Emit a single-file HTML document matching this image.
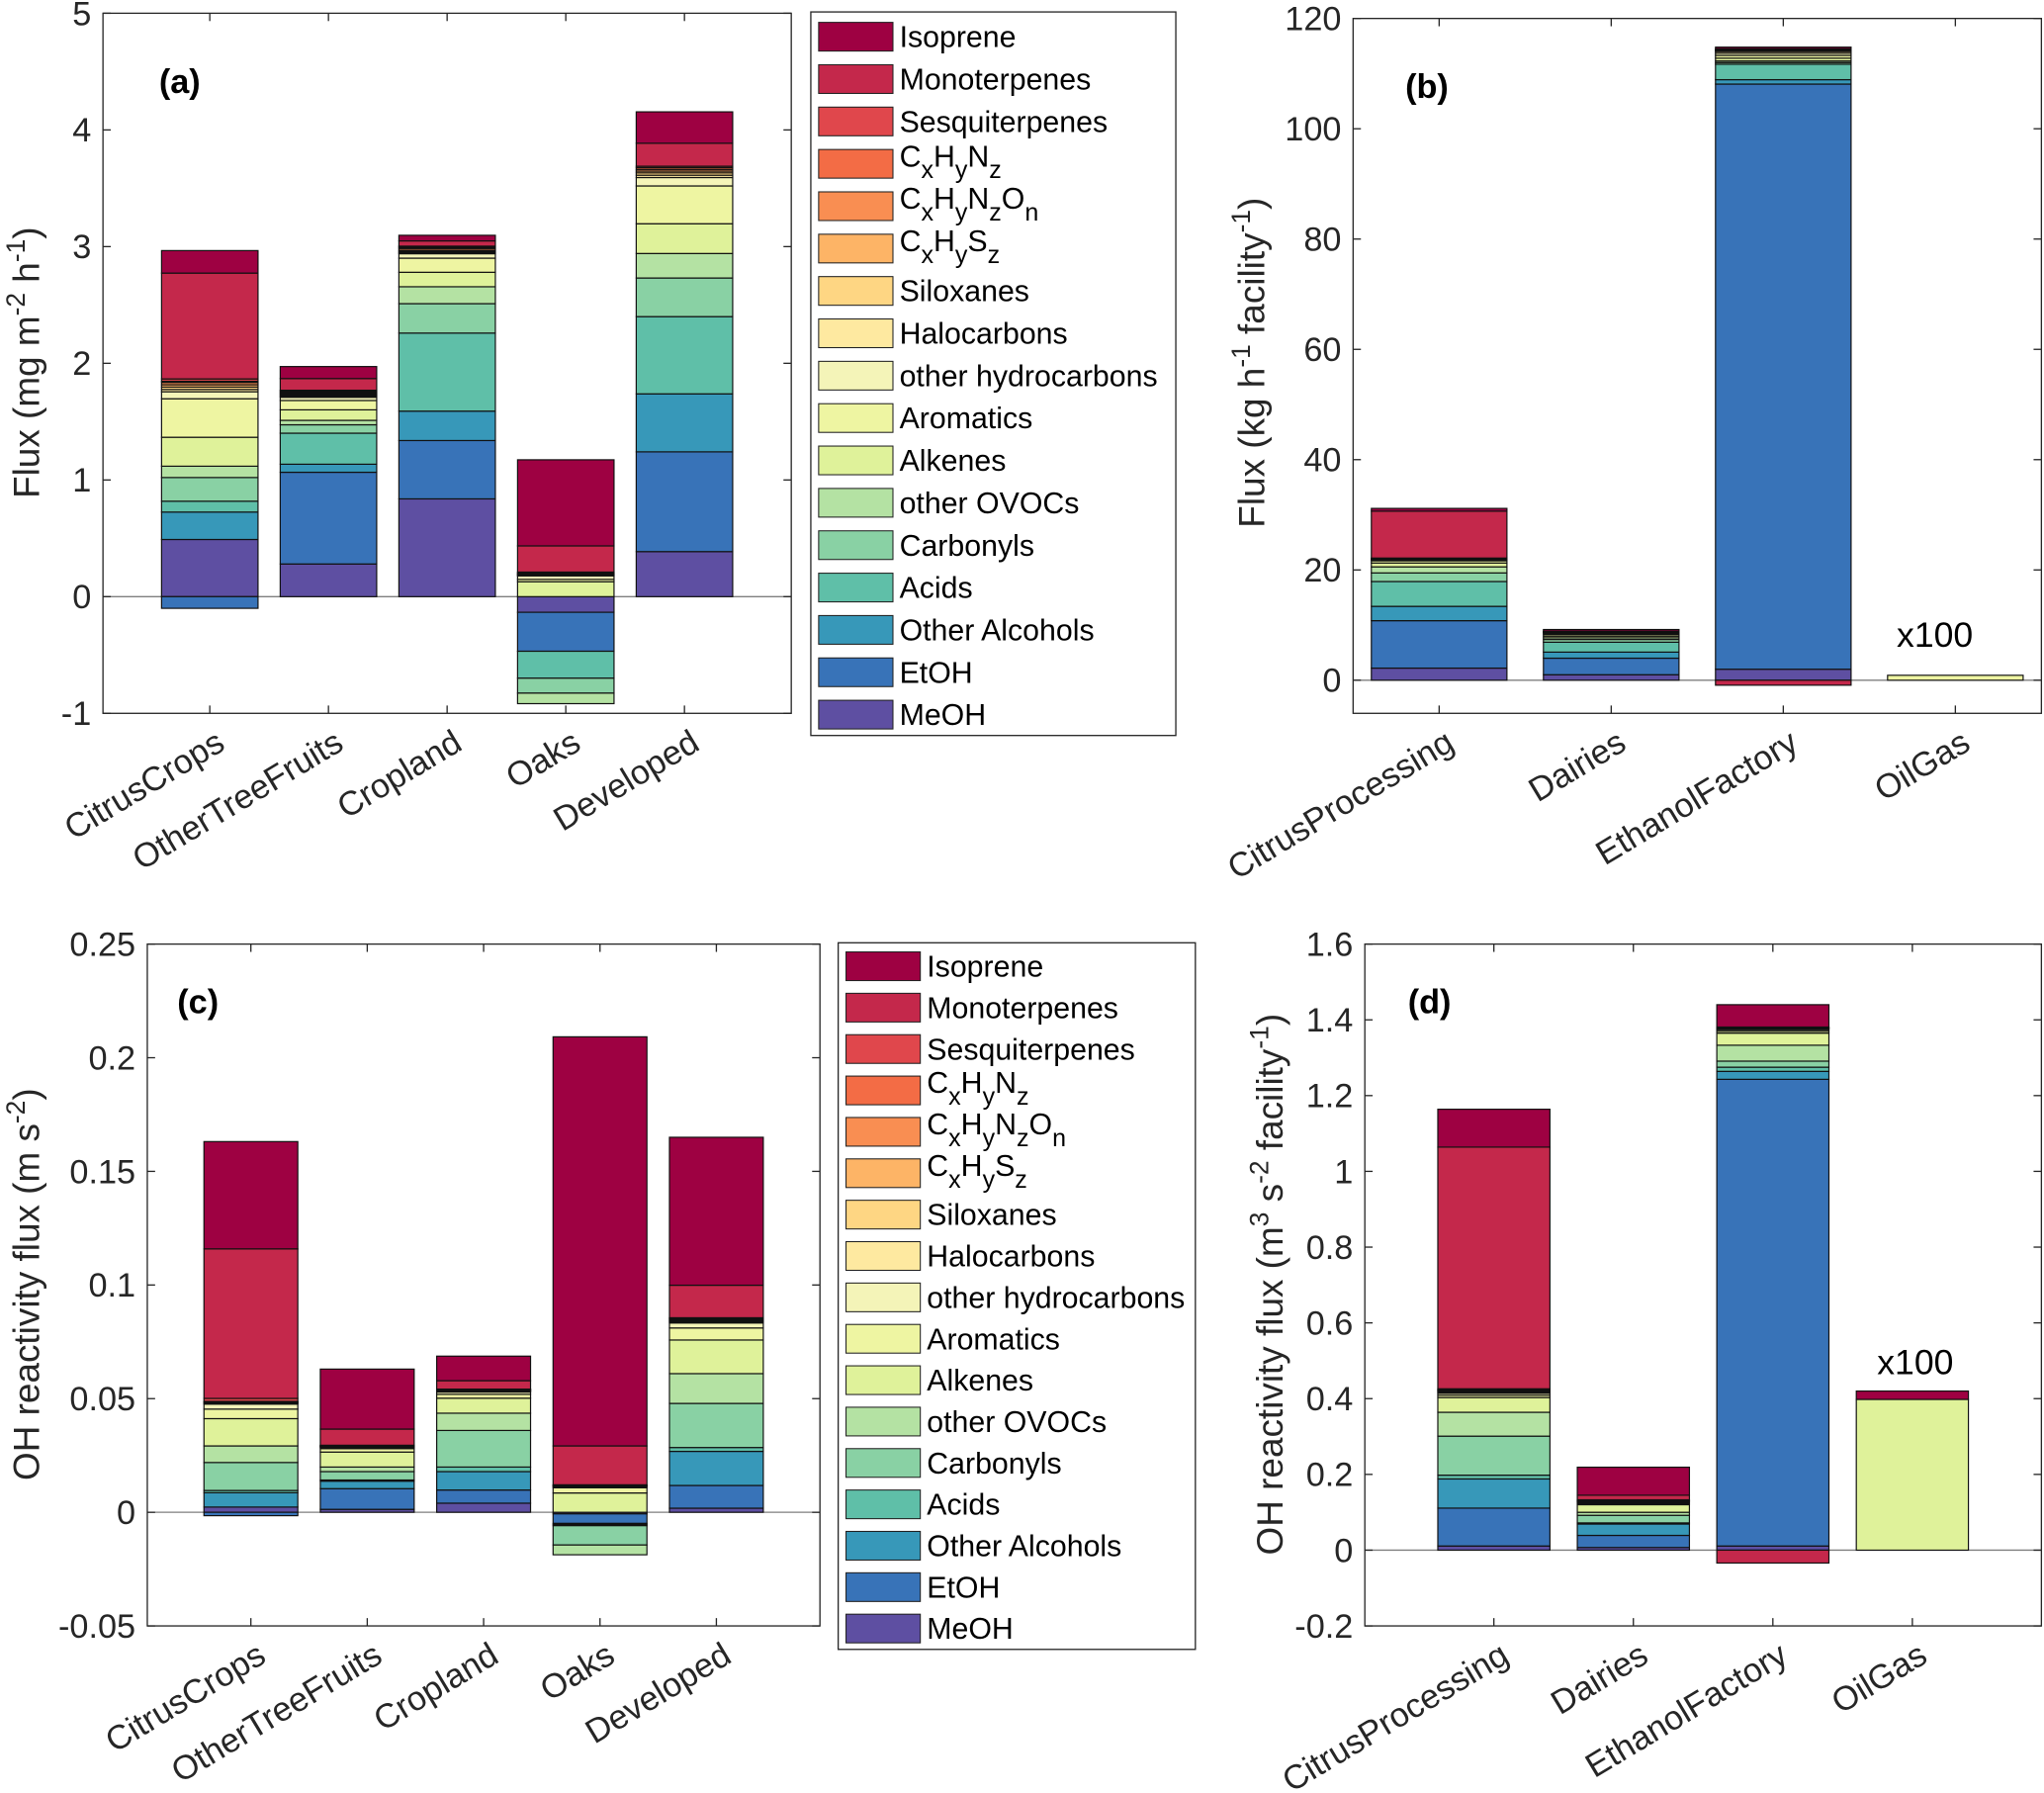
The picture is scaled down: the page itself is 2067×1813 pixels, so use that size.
<!DOCTYPE html>
<html><head><meta charset="utf-8">
<style>
html,body{margin:0;padding:0;background:#fff;}
svg{display:block;font-family:"Liberation Sans",Arial,sans-serif;}
</style></head>
<body>
<svg id="fig" width="2067" height="1813" viewBox="0 0 1568 1375" xmlns="http://www.w3.org/2000/svg"></svg>
<script>
// ---- series ----
const seriesNames = ["MeOH","EtOH","Other Alcohols","Acids","Carbonyls","other OVOCs","Alkenes","Aromatics","other hydrocarbons","Halocarbons","Siloxanes","CxHySz","CxHyNzOn","CxHyNz","Sesquiterpenes","Monoterpenes","Isoprene"];
const seriesColors = ["#5E4FA2","#3873B8","#3798B9","#5FBFA8","#89D1A4","#B4E2A3","#DFF29A","#EEF5A2","#F4F4B8","#FEE9A0","#FED683","#FDB466","#F98E52","#F36C45","#E0474C","#C4284B","#9E0142"];

// ---- panel (a) ----
const catsA = ["CitrusCrops","OtherTreeFruits","Cropland","Oaks","Developed"];
const a_CitrusCrops = [0.49,-0.10,0.235,0.093,0.203,0.097,0.248,0.33,0.06,0.02,0.02,0.02,0.02,0.01,0.02,0.907,0.193];
const a_OtherTreeFruits = [0.28,0.786,0.069,0.266,0.072,0.038,0.09,0.08,0.028,0.01,0.01,0.01,0.01,0.01,0.01,0.1,0.103];
const a_Cropland = [0.838,0.5,0.252,0.669,0.252,0.145,0.124,0.121,0.038,0.01,0.01,0.01,0.015,0.01,0.01,0.045,0.048];
const a_Oaks = [-0.134,-0.334,0,-0.231,-0.128,-0.09,0.128,0.02,0.03,0.005,0.005,0.005,0.005,0.005,0.008,0.224,0.738];
const a_Developed = [0.386,0.855,0.497,0.662,0.331,0.21,0.255,0.324,0.072,0.02,0.02,0.015,0.015,0.015,0.012,0.197,0.269];
const ticksA = [-1,0,1,2,3,4,5];

// ---- panel (b) ----
const catsB = ["CitrusProcessing","Dairies","EthanolFactory","OilGas"];
const b_CitrusProcessing = [2.2,8.6,2.6,4.5,1.56,1.1,0.7,0.4,0.1,0.1,0.05,0.05,0.05,0.05,0.1,8.5,0.5];
const b_Dairies = [1.0,3.0,1.1,1.8,0.5,0.3,0.3,0.3,0.2,0.1,0.05,0.05,0.05,0.05,0.05,0.05,0.3];
const b_EthanolFactory = [2.0,106.1,0.8,2.8,0.3,0.3,0.5,0.5,0.4,0.3,0.1,0.1,0.1,0.1,0.1,-0.9,0.3];
const b_OilGas = [0,0,0,0,0,0,0,0.9,0,0,0,0,0,0,0,0,0];
const ticksB = [0,20,40,60,80,100,120];

// ---- panel (c) ----
const catsC = ["CitrusCrops","OtherTreeFruits","Cropland","Oaks","Developed"];
const c_CitrusCrops = [0.0023,-0.0015,0.0063,0.001,0.0123,0.0073,0.012,0.0042,0.0022,0.0003,0.0003,0.0002,0.0002,0.0002,0.0013,0.0658,0.0472];
const c_OtherTreeFruits = [0.0013,0.0091,0.0033,0.0005,0.0037,0.002,0.0066,0.0015,0.0005,0.0002,0.0002,0.0002,0.0001,0.0001,0.0002,0.0071,0.0264];
const c_Cropland = [0.004,0.0058,0.0081,0.002,0.0161,0.0076,0.0066,0.0017,0.001,0.0003,0.0002,0.0002,0.0003,0.0001,0.0002,0.0037,0.0108];
const c_Oaks = [-0.0007,-0.0042,-0.0005,-0.0005,-0.0085,-0.0043,0.0085,0.0023,0.0005,0.0002,0.0001,0.0001,0.0001,0.0001,0.0002,0.0171,0.18];
const c_Developed = [0.0018,0.01,0.015,0.0017,0.0194,0.0131,0.0148,0.0053,0.0022,0.0005,0.0004,0.0004,0.0004,0.0003,0.0003,0.0143,0.0651];
const ticksC = [-0.05,0,0.05,0.1,0.15,0.2,0.25];
const tickLabelsC = ["-0.05","0","0.05","0.1","0.15","0.2","0.25"];

// ---- panel (d) ----
const catsD = ["CitrusProcessing","Dairies","EthanolFactory","OilGas"];
const d_CitrusProcessing = [0.011,0.1,0.077,0.01,0.103,0.063,0.039,0.006,0.005,0.003,0.002,0.002,0.002,0.001,0.002,0.638,0.1];
const d_Dairies = [0.007,0.032,0.03,0.003,0.02,0.008,0.02,0.003,0.003,0.002,0.001,0.001,0.001,0.001,0.001,0.012,0.074];
const d_EthanolFactory = [0.011,1.232,0.021,0.011,0.016,0.042,0.032,0.005,0.004,0.002,0.001,0.001,0.001,0.001,0.001,-0.034,0.059];
const d_OilGas = [0,0,0,0,0,0,0.398,0,0,0,0,0,0,0,0,0,0.022];
const ticksD = [-0.2,0,0.2,0.4,0.6,0.8,1,1.2,1.4,1.6];
const tickLabelsD = ["-0.2","0","0.2","0.4","0.6","0.8","1","1.2","1.4","1.6"];

const NS="http://www.w3.org/2000/svg";
const svg=document.getElementById('fig');
function mk(tag,attrs,parent){const e=document.createElementNS(NS,tag);for(const k in attrs)e.setAttribute(k,attrs[k]);(parent||svg).appendChild(e);return e;}

function panel(cfg){
  const g=mk('g',{});
  
  
  const {x0,x1,y0,y1,ymin,ymax}=cfg;
  const ys=v=>y1-(v-ymin)/(ymax-ymin)*(y1-y0);
  const n=cfg.cats.length;
  const xs=i=>x0+(i+0.5+cfg.pad)*(x1-x0)/(n+2*cfg.pad);
  const bw=cfg.bw;
  const zl=mk('line',{x1:x0,x2:x1,y1:ys(0),y2:ys(0),stroke:'#7f7f7f','stroke-width':1},g);
  
  
  cfg.data.forEach((vals,ci)=>{
    let pos=0,neg=0;
    vals.forEach((v,si)=>{
      if(!v)return;
      let a,b;
      if(v>0){a=pos;b=pos+v;pos=b;}else{a=neg;b=neg+v;neg=b;}
      const r=mk('rect',{x:xs(ci)-bw/2,y:Math.min(ys(a),ys(b)),width:bw,height:Math.abs(ys(a)-ys(b)),fill:seriesColors[si],stroke:'#111','stroke-width':0.9},g);
      
      
    });
  });
  const fr=mk('rect',{x:x0,y:y0,width:x1-x0,height:y1-y0,fill:'none',stroke:'#262626','stroke-width':1},g);
  
  
  cfg.ticks.forEach((t,i)=>{
    const y=ys(t);
    mk('line',{x1:x0,x2:x0+6,y1:y,y2:y,stroke:'#262626'},g);
    mk('line',{x1:x1,x2:x1-6,y1:y,y2:y,stroke:'#262626'},g);
    const tx=mk('text',{x:x0-9,y:y+9,'text-anchor':'end','font-size':26,fill:'#262626'},g);
    tx.textContent=cfg.tickLabels?cfg.tickLabels[i]:String(t);
    
    
  });
  cfg.cats.forEach((c,i)=>{
    const x=xs(i);
    mk('line',{x1:x,x2:x,y1:y1,y2:y1-6,stroke:'#262626'},g);
    mk('line',{x1:x,x2:x,y1:y0,y2:y0+6,stroke:'#262626'},g);
    const tx=mk('text',{x:x+13,y:y1+27,'text-anchor':'end','font-size':26,fill:'#262626',transform:`rotate(-31 ${x+13} ${y1+27})`},g);
    tx.textContent=c;
    
    
  });
  const pl=mk('text',{x:cfg.lx,y:cfg.ly,'font-size':26,'font-weight':'bold',fill:'#000'},g);
  pl.textContent=cfg.label;
  
  
  return {g,xs,ys};
}

function ytitle(x,y,parts,name){
  const t=mk('text',{x:x,y:y,'text-anchor':'middle','font-size':28,fill:'#262626',transform:`rotate(-90 ${x} ${y})`});
  
  
  parts.forEach(p=>{
    const s=mk('tspan',{},t);
    if(p[1]==='sup'){s.setAttribute('dy',-11);s.setAttribute('font-size',20);}
    else if(p[1]==='base'){s.setAttribute('dy',11);}
    s.textContent=p[0];
  });
}

function legend(x,y,w,h,rowStart,rowStep,name){
  const g=mk('g',{});
  
  
  mk('rect',{x:x,y:y,width:w,height:h,fill:'#fff',stroke:'#262626','stroke-width':1},g);
  const order=seriesNames.map((s,i)=>i).reverse();
  order.forEach((si,k)=>{
    const cy=rowStart+k*rowStep;
    const eg=mk('g',{},g);
    
    
    mk('rect',{x:x+6,y:cy-11,width:57,height:22,fill:seriesColors[si],stroke:'#222','stroke-width':0.8},eg);
    const t=mk('text',{x:x+68,y:cy+8,'font-size':23,fill:'#000'},eg);
    const nm=seriesNames[si];
    if(nm.startsWith('CxHy')){
      const pieces=nm==='CxHyNz'?[['C',0],['x',1],['H',0],['y',1],['N',0],['z',1]]:
        nm==='CxHyNzOn'?[['C',0],['x',1],['H',0],['y',1],['N',0],['z',1],['O',0],['n',1]]:
        [['C',0],['x',1],['H',0],['y',1],['S',0],['z',1]];
      let sub=false;
      pieces.forEach(p=>{
        const s=mk('tspan',{},t);
        if(p[1]&&!sub){s.setAttribute('dy',9);sub=true;}
        else if(!p[1]&&sub){s.setAttribute('dy',-9);sub=false;}
        if(p[1])s.setAttribute('font-size',19);
        s.textContent=p[0];
      });
      t.setAttribute('y',cy+2);
    } else t.textContent=nm;
  });
}

panel({name:'panel-a',x0:79,x1:607,y0:10,y1:547,ymin:-1,ymax:5,cats:catsA,data:[a_CitrusCrops,a_OtherTreeFruits,a_Cropland,a_Oaks,a_Developed],ticks:ticksA,bw:74,pad:0.4,label:'(a)',lx:122,ly:71});
legend(622,9,280,555,28,32.5,'legend-a');
ytitle(30,278,[['Flux (mg m'],['-2','sup'],[' h','base'],['-1','sup'],[')','base']],'y-axis-title-a');

panel({name:'panel-b',x0:1038,x1:1566,y0:14,y1:547,ymin:-6,ymax:120,cats:catsB,data:[b_CitrusProcessing,b_Dairies,b_EthanolFactory,b_OilGas],ticks:ticksB,bw:104,pad:0,label:'(b)',lx:1078,ly:75});
ytitle(970,278,[['Flux (kg h'],['-1','sup'],[' facility','base'],['-1','sup'],[')','base']],'y-axis-title-b');
{const t=mk('text',{x:1455,y:496,'font-size':27,fill:'#000'});t.textContent='x100';}

panel({name:'panel-c',x0:113,x1:629,y0:724,y1:1247,ymin:-0.05,ymax:0.25,cats:catsC,data:[c_CitrusCrops,c_OtherTreeFruits,c_Cropland,c_Oaks,c_Developed],ticks:ticksC,tickLabels:tickLabelsC,bw:72,pad:0.39,label:'(c)',lx:136,ly:777});
legend(643,723,274,542,741,31.75,'legend-c');
ytitle(30,985,[['OH reactivity flux (m s'],['-2','sup'],[')','base']],'y-axis-title-c');

panel({name:'panel-d',x0:1047,x1:1566,y0:724,y1:1247,ymin:-0.2,ymax:1.6,cats:catsD,data:[d_CitrusProcessing,d_Dairies,d_EthanolFactory,d_OilGas],ticks:ticksD,tickLabels:tickLabelsD,bw:86,pad:0.425,label:'(d)',lx:1080,ly:777});
ytitle(984,985,[['OH reactivity flux (m'],['3','sup'],[' s','base'],['-2','sup'],[' facility','base'],['-1','sup'],[')','base']],'y-axis-title-d');
{const t=mk('text',{x:1440,y:1054,'font-size':27,fill:'#000'});t.textContent='x100';}
</script>
</body></html>
